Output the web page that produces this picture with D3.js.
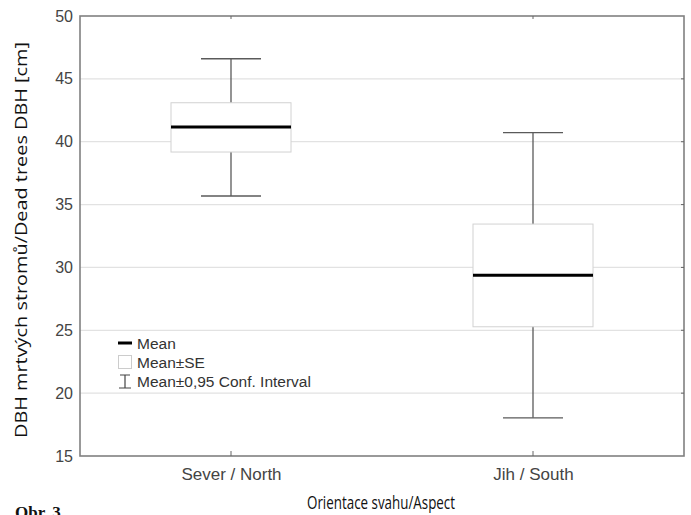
<!DOCTYPE html>
<html>
<head>
<meta charset="utf-8">
<script src="https://cdn.jsdelivr.net/npm/d3@7"></script>
<style>
  body { margin: 0; background: #fff; }
  svg { display: block; }
</style>
</head>
<body>
<svg id="chart"></svg>
<script>
const categories = ["Sever / North", "Jih / South"];
const means = [41.17, 29.37];
const seLow = [39.18, 25.28];
const seHigh = [43.1, 33.45];
const ciLow = [35.68, 18.04];
const ciHigh = [46.6, 40.72];
const yTicks = [15, 20, 25, 30, 35, 40, 45, 50];

const width = 691, height = 515;
const margin = {top: 16, right: 7, bottom: 59, left: 80};

const svg = d3.select("#chart").attr("width", width).attr("height", height);

const x = d3.scalePoint().domain(categories)
  .range([margin.left, width - margin.right]).padding(0.5);
const y = d3.scaleLinear().domain([15, 50])
  .range([height - margin.bottom, margin.top]);

const x0 = margin.left, x1 = width - margin.right;
const y0 = height - margin.bottom, y1 = margin.top;

// grid
svg.append("g")
  .selectAll("line")
  .data(yTicks.slice(1, -1))
  .join("line")
  .attr("x1", x0).attr("x2", x1)
  .attr("y1", d => y(d)).attr("y2", d => y(d))
  .attr("stroke", "#e2e2e2")
  .attr("stroke-width", 1.2);

// y axis labels
const yAxis = svg.append("g")
  .attr("transform", `translate(${x0},0)`)
  .call(d3.axisLeft(y).tickValues(yTicks).tickSize(0).tickPadding(7));
yAxis.select(".domain").remove();
yAxis.selectAll("text")
  .attr("font-family", "Liberation Sans, Arial, sans-serif")
  .attr("font-size", 16)
  .attr("fill", "#444");

// x axis labels
const xAxis = svg.append("g")
  .attr("transform", `translate(0,${y0})`)
  .call(d3.axisBottom(x).tickSize(0).tickPadding(12));
xAxis.select(".domain").remove();
xAxis.selectAll("text")
  .attr("font-family", "Liberation Sans, Arial, sans-serif")
  .attr("font-size", 17)
  .attr("fill", "#444");

// whiskers
const g = svg.append("g");
const cap = 30, half = 60;
g.selectAll(".whisker")
  .data(categories)
  .join("line")
  .attr("class", "whisker")
  .attr("x1", d => x(d)).attr("x2", d => x(d))
  .attr("y1", (d, i) => y(ciLow[i])).attr("y2", (d, i) => y(ciHigh[i]))
  .attr("stroke", "#5a5a5a").attr("stroke-width", 1.3);
g.selectAll(".capHi")
  .data(categories)
  .join("line")
  .attr("class", "capHi")
  .attr("x1", d => x(d) - cap).attr("x2", d => x(d) + cap)
  .attr("y1", (d, i) => y(ciHigh[i])).attr("y2", (d, i) => y(ciHigh[i]))
  .attr("stroke", "#5a5a5a").attr("stroke-width", 1.3);
g.selectAll(".capLo")
  .data(categories)
  .join("line")
  .attr("class", "capLo")
  .attr("x1", d => x(d) - cap).attr("x2", d => x(d) + cap)
  .attr("y1", (d, i) => y(ciLow[i])).attr("y2", (d, i) => y(ciLow[i]))
  .attr("stroke", "#5a5a5a").attr("stroke-width", 1.3);

// SE boxes
g.selectAll("rect")
  .data(categories)
  .join("rect")
  .attr("x", d => x(d) - half)
  .attr("width", half * 2)
  .attr("y", (d, i) => y(seHigh[i]))
  .attr("height", (d, i) => y(seLow[i]) - y(seHigh[i]))
  .attr("fill", "#fff")
  .attr("stroke", "#d2d2d2")
  .attr("stroke-width", 1);

// means
g.selectAll(".mean")
  .data(categories)
  .join("line")
  .attr("class", "mean")
  .attr("x1", d => x(d) - half).attr("x2", d => x(d) + half)
  .attr("y1", (d, i) => y(means[i])).attr("y2", (d, i) => y(means[i]))
  .attr("stroke", "#000").attr("stroke-width", 3);

// frame
svg.append("rect")
  .attr("x", x0).attr("y", y1)
  .attr("width", x1 - x0).attr("height", y0 - y1)
  .attr("fill", "none")
  .attr("stroke", "#808080")
  .attr("stroke-width", 1.6);

// small inner ticks
svg.append("g").selectAll("line")
  .data(categories)
  .join("line")
  .attr("x1", d => x(d)).attr("x2", d => x(d))
  .attr("y1", y1).attr("y2", y1 + 3)
  .attr("stroke", "#666");
svg.append("g").selectAll("line")
  .data(categories)
  .join("line")
  .attr("x1", d => x(d)).attr("x2", d => x(d))
  .attr("y1", y0).attr("y2", y0 - 5)
  .attr("stroke", "#666");
svg.append("g").selectAll("line")
  .data(yTicks.slice(1, -1))
  .join("line")
  .attr("x1", x1).attr("x2", x1 - 3)
  .attr("y1", d => y(d)).attr("y2", d => y(d))
  .attr("stroke", "#666");

// legend
const leg = svg.append("g")
  .attr("font-family", "Liberation Sans, Arial, sans-serif")
  .attr("font-size", 15.5)
  .attr("fill", "#333");
leg.append("line")
  .attr("x1", 118).attr("x2", 132).attr("y1", 343).attr("y2", 343)
  .attr("stroke", "#000").attr("stroke-width", 3);
leg.append("text").attr("x", 137).attr("y", 349).text("Mean");
leg.append("rect")
  .attr("x", 118.5).attr("y", 355.5).attr("width", 13).attr("height", 13)
  .attr("fill", "#fff").attr("stroke", "#ccc");
leg.append("text").attr("x", 137).attr("y", 368).text("Mean±SE");
leg.append("path")
  .attr("d", "M120,375H130M125,375V388M119,388H131")
  .attr("stroke", "#444").attr("stroke-width", 1.2).attr("fill", "none");
leg.append("text").attr("x", 137).attr("y", 387).text("Mean±0,95 Conf. Interval");

// axis titles
svg.append("text")
  .attr("x", 381).attr("y", 509)
  .attr("text-anchor", "middle")
  .attr("font-family", "Open Sans, Noto Sans, sans-serif")
  .attr("font-size", 17.5)
  .attr("textLength", 148)
  .attr("lengthAdjust", "spacingAndGlyphs")
  .attr("fill", "#111")
  .text("Orientace svahu/Aspect");

svg.append("text")
  .attr("transform", `translate(27,${(y0 + y1) / 2 + 4}) rotate(-90)`)
  .attr("text-anchor", "middle")
  .attr("font-family", "Open Sans, Noto Sans, sans-serif")
  .attr("font-size", 16.5)
  .attr("textLength", 396)
  .attr("lengthAdjust", "spacingAndGlyphs")
  .attr("fill", "#111")
  .text("DBH mrtvých stromů/Dead trees DBH [cm]");

svg.append("text")
  .attr("x", 15).attr("y", 518)
  .attr("font-family", "Liberation Serif, Times New Roman, serif")
  .attr("font-weight", "bold")
  .attr("font-size", 17)
  .attr("fill", "#111")
  .text("Obr. 3");
</script>
</body>
</html>
